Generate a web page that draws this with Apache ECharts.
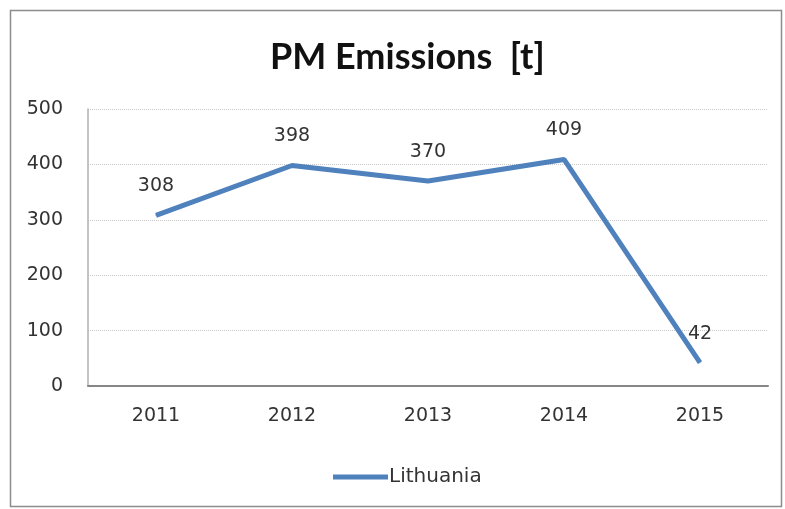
<!DOCTYPE html>
<html><head><meta charset="utf-8">
<script src="https://cdn.jsdelivr.net/npm/echarts@6/dist/echarts.min.js"></script>
<style>html,body{margin:0;padding:0;background:#fff}#c{width:785px;height:509px}</style>
</head><body><div id="c"></div>
<script>
const categories = ['2011','2012','2013','2014','2015'];
const lithuania = [308, 398, 370, 409, 42];
const yTicks = [0, 100, 200, 300, 400, 500];
const seriesName = 'Lithuania';
const titleText = 'PM Emissions  [t]';

const chart = echarts.init(document.getElementById('c'));
const tfont = 'Lato, "Open Sans", sans-serif';
const font = '"DejaVu Sans", Verdana, sans-serif';
chart.setOption({
  animation: false,
  backgroundColor: '#fff',
  graphic: [{type:'rect', shape:{x:10.5,y:10.5,width:771,height:496}, style:{fill:'none', stroke:'#8c8c8c', lineWidth:1.5}, silent:true}],
  title: {text: titleText, left: 265, top: 34, textStyle:{fontFamily: tfont, fontWeight:'bold', fontSize:36, color:'#111'}},
  grid: {left: 88, right: 17, top: 109, bottom: 123},
  legend: {data:[seriesName], left: 328, top: 462, itemWidth: 55, itemHeight: 5, itemGap: 2,
    icon: 'rect',
    textStyle:{fontFamily: font, fontSize:20, color:'#333', padding:[0,0,0,-4]}},
  xAxis: {type:'category', data: categories, boundaryGap: true,
    axisLine:{lineStyle:{color:'#868686', width:2}}, axisTick:{show:false},
    axisLabel:{fontFamily: font, fontSize:19, color:'#333', margin:21}},
  yAxis: {type:'value', min: yTicks[0], max: yTicks[yTicks.length-1], interval: 100,
    axisLine:{show:true, lineStyle:{color:'#b0b0b0', width:1.5}}, axisTick:{show:false},
    axisLabel:{fontFamily: font, fontSize:19, color:'#333', margin:25},
    splitLine:{lineStyle:{color:'#c8c8c8', type:'dotted', width:1}}},
  series: [{name: seriesName, type:'line', data: lithuania, symbol:'circle', symbolSize: 1,
    lineStyle:{color:'#4f81bd', width:5}, itemStyle:{color:'#4f81bd'},
    label:{show:true, position:'top', distance:19, fontFamily: font, fontSize:19, color:'#333'}}]
});
</script></body></html>
